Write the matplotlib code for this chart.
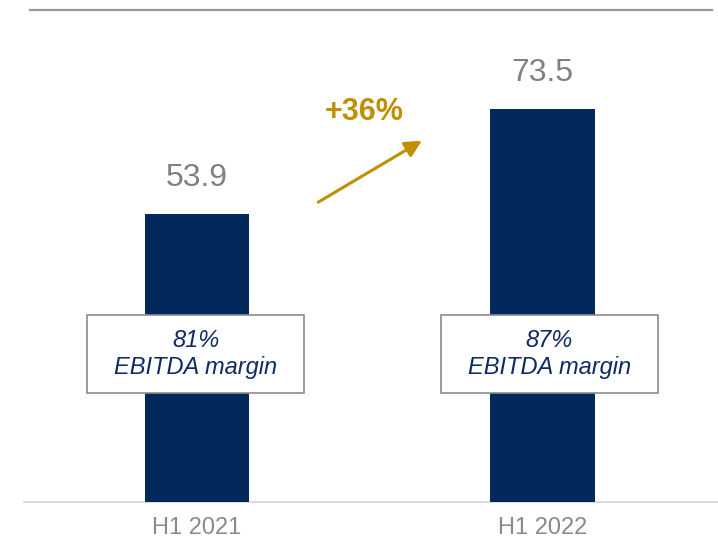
import matplotlib
matplotlib.use("Agg")
import matplotlib.pyplot as plt
from matplotlib.patches import Rectangle

plt.rcParams['font.family'] = ['Liberation Sans', 'DejaVu Sans']

categories = ["H1 2021", "H1 2022"]
values = [53.9, 73.5]
value_labels = ["53.9", "73.5"]
margins = ["81%", "87%"]
growth_label = "+36%"

NAVY = "#03295C"
GOLD = "#BF8F00"
GRAY = "#808080"

fig = plt.figure(figsize=(7.18, 5.44), dpi=100)
ax = fig.add_axes([0, 42 / 544, 1, 492 / 544])
ax.set_xlim(-197 / 345.5, 1 + 175.5 / 345.5)
ax.set_ylim(0, 492 / 5.345)
ax.axis('off')

x = list(range(len(categories)))
ax.bar(x, values, width=0.302, color=NAVY, zorder=2)

# baseline and top rule
ax.axhline(0, xmin=24 / 718, xmax=1, color="#DDDDDD", lw=1.5, zorder=1, clip_on=False)
ax.axhline(492 / 5.345, xmin=30 / 718, xmax=712 / 718, color="#9A9A9A", lw=1.6, clip_on=False)

box_shift = [-0.004, 0.02]
for xi, v, lab, cat, m, dx in zip(x, values, value_labels, categories, margins, box_shift):
    ax.annotate(lab, (xi, v), xytext=(0, 15), textcoords='offset points',
                ha='center', va='bottom', fontsize=23, color=GRAY)
    ax.text(xi, -4.9, cat, ha='center', va='center', fontsize=17, color="#8A8A8A", clip_on=False)
    bw, bh, by = 0.628, 14.6, 27.7
    ax.add_patch(Rectangle((xi + dx - bw / 2, by - bh / 2), bw, bh, facecolor='white',
                           edgecolor="#8C8C8C", lw=1.2, zorder=3))
    ax.text(xi + dx, by, f"{m}\nEBITDA margin", ha='center', va='center', fontsize=17,
            style='italic', color="#0E2A63", zorder=4, linespacing=1.25)

ax.annotate("", xy=(0.651, 67.6), xytext=(0.351, 56.1),
            arrowprops=dict(arrowstyle="-|>,head_length=1.0,head_width=0.5", color=GOLD, lw=2.2,
                            shrinkA=0, shrinkB=0))
ax.text(0.485, 72.9, growth_label, ha='center', va='center', fontsize=22,
        fontweight='bold', color=GOLD)

fig.savefig("out.png", dpi=100)
